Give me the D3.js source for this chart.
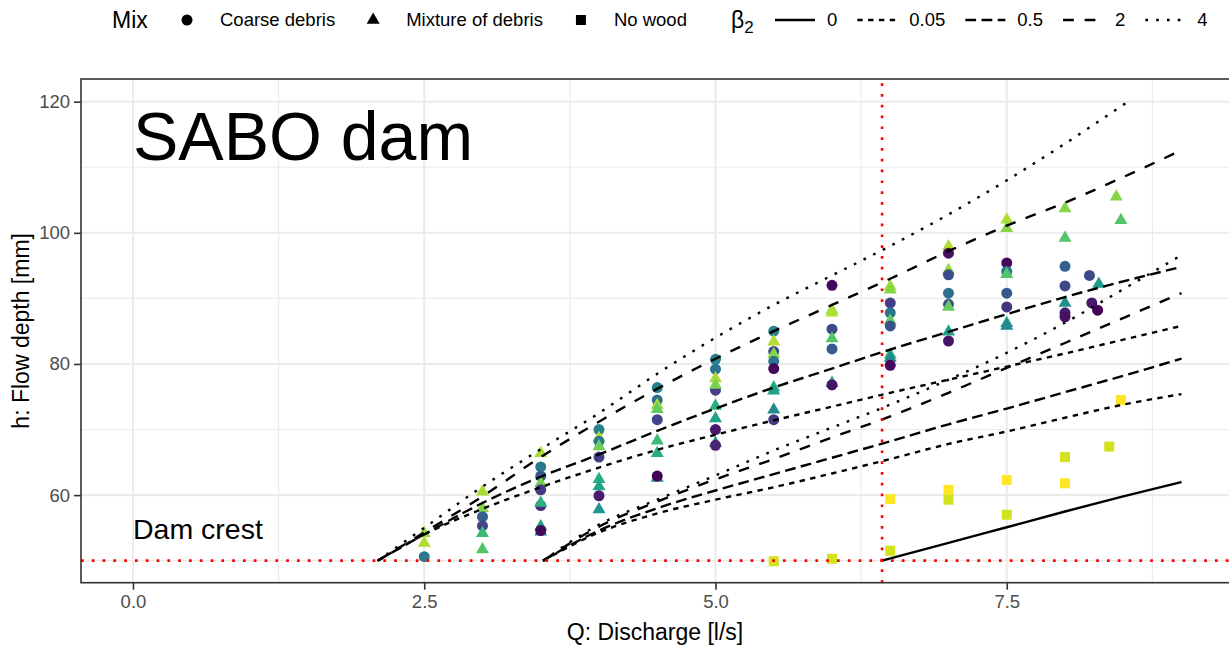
<!DOCTYPE html>
<html>
<head>
<meta charset="utf-8">
<script src="https://cdn.jsdelivr.net/npm/d3@7"></script>
<style>
  body { margin: 0; background: #fff; }
  svg { display: block; font-family: "Liberation Sans", Arial, sans-serif; }
</style>
</head>
<body>
<div id="chart"></div>
<script>
// ---- data ----
const damCrest = 50
const criticalQ = 6.43

const xTicks = [0, 2.5, 5, 7.5]
const xMinor = [1.25, 3.75, 6.25, 8.75]
const yTicks = [60, 80, 100, 120]
const yMinor = [50, 70, 90, 110]

const mixLevels = ['Coarse debris', 'Mixture of debris', 'No wood']
const betaLevels = ['0', '0.05', '0.5', '2', '4']

// model curves, upper family (coarse debris)
const upperQ = [2.1, 2.5, 3, 3.5, 4, 4.5, 5, 5.5, 6, 6.5, 7, 7.5, 8, 8.5, 9]
const upperB005 = [50, 54, 57.9, 61.2, 64.2, 66.9, 69.2, 71.4, 73.5, 75.6, 77.6, 79.6, 81.6, 83.7, 85.8]
const upperB05 = [50, 54, 58.8, 62.8, 66.2, 69.8, 73.2, 76.4, 79.3, 82.2, 84.9, 87.6, 90.2, 92.6, 94.8]
const upperB2 = [50, 54.3, 59.8, 65.8, 71.2, 76.2, 80.8, 85, 89, 93, 97.2, 101.1, 104.6, 108.5, 112.6]
const upperB4Q = [2.1, 2.5, 3, 3.5, 4, 4.5, 5, 5.5, 6, 6.5, 7, 7.5, 8, 8.54]
const upperB4 = [50, 55, 61.3, 67, 72.5, 78.5, 84, 89, 93.5, 98, 102.8, 108, 113.6, 120]

// model curves, lower family (mixture of debris)
const lowerQ = [3.52, 4, 4.5, 5, 5.5, 6, 6.5, 7, 7.5, 8, 8.5, 9]
const lowerB005 = [50, 54.3, 57.2, 59.3, 61.2, 63.3, 65.5, 67.8, 69.7, 71.8, 73.8, 75.4]
const lowerB05 = [50, 54.6, 58, 60.7, 63.2, 65.7, 68.2, 70.8, 73.2, 75.7, 78.2, 80.8]
const lowerB2 = [50, 55.2, 59, 62.4, 65.5, 68.8, 72, 75.6, 79.4, 83.2, 87, 90.8]
const lowerB4 = [50, 55.5, 59.3, 63, 66.8, 70.3, 73.8, 77.6, 81.7, 86.3, 91.4, 96.6]

// no wood curve
const noWoodQ = [6.43, 7, 7.5, 8, 8.5, 9]
const noWoodH = [50, 52.7, 55.1, 57.5, 59.8, 62]

// measured points: discharge, depth, mix code, run colour value
const pointQ = [
  2.5, 2.5, 2.5,
  3, 3, 3, 3, 3, 3,
  3.5, 3.5, 3.5, 3.5, 3.5, 3.5, 3.5, 3.5, 3.5, 3.5,
  4, 4, 4, 4, 4, 4, 4, 4, 4,
  4.5, 4.5, 4.5, 4.5, 4.5, 4.5, 4.5, 4.5, 4.5,
  5, 5, 5, 5, 5, 5, 5, 5, 5, 5,
  5.5, 5.5, 5.5, 5.5, 5.5, 5.5, 5.5, 5.5, 5.5, 5.5, 5.5,
  6, 6, 6, 6, 6, 6, 6, 6, 6,
  6.5, 6.5, 6.5, 6.5, 6.5, 6.5, 6.5, 6.5, 6.5, 6.5, 6.5,
  7, 7, 7, 7, 7, 7, 7, 7, 7, 7, 7,
  7.5, 7.5, 7.5, 7.5, 7.5, 7.5, 7.5, 7.5, 7.5, 7.5, 7.5,
  8, 8, 8, 8, 8, 8, 8, 8, 8,
  8.21, 8.29, 8.23, 8.28,
  8.44, 8.48, 8.38, 8.48
]
const pointH = [
  54.2, 52.7, 50.6,
  60.5, 58.0, 56.7, 55.3, 54.2, 51.7,
  66.4, 64.3, 62.9, 61.8, 60.8, 58.4, 58.8, 55.2, 54.4, 54.6,
  70.0, 68.7, 68.2, 67.4, 65.8, 62.4, 61.3, 59.9, 57.8,
  76.4, 74.5, 73.7, 73.1, 71.5, 68.3, 66.4, 62.6, 62.9,
  80.7, 79.2, 76.0, 77.8, 76.8, 73.6, 71.7, 70.0, 67.9, 67.6,
  85.0, 83.4, 81.9, 81.5, 80.4, 79.3, 76.4, 75.9, 73.0, 71.5, 49.9,
  92.0, 88.2, 87.8, 85.3, 83.9, 82.3, 77.1, 76.8, 50.3,
  91.8, 91.3, 89.3, 87.8, 86.6, 85.8, 81.4, 80.9, 79.8, 59.4, 51.5,
  97.9, 96.9, 94.3, 93.6, 90.8, 89.1, 88.7, 84.9, 83.5, 60.8, 59.3,
  102.0, 100.7, 95.4, 94.1, 93.7, 90.8, 88.7, 86.2, 85.8, 62.3, 57.0,
  103.7, 99.2, 94.9, 91.9, 89.3, 87.8, 87.2, 65.8, 61.8,
  93.5, 92.2, 89.3, 88.2,
  105.5, 101.9, 67.4, 74.5
]
const pointMix = [
  'M', 'M', 'C',
  'M', 'M', 'C', 'C', 'M', 'M',
  'M', 'C', 'C', 'M', 'C', 'C', 'M', 'M', 'M', 'C',
  'C', 'M', 'C', 'M', 'C', 'M', 'M', 'C', 'M',
  'C', 'C', 'M', 'M', 'C', 'M', 'M', 'M', 'C',
  'C', 'C', 'C', 'M', 'M', 'M', 'M', 'C', 'M', 'C',
  'C', 'M', 'C', 'M', 'C', 'C', 'M', 'M', 'M', 'C', 'N',
  'C', 'M', 'M', 'C', 'M', 'C', 'M', 'C', 'N',
  'M', 'M', 'C', 'C', 'M', 'C', 'M', 'M', 'C', 'N', 'N',
  'M', 'C', 'M', 'C', 'C', 'C', 'M', 'M', 'C', 'N', 'N',
  'M', 'M', 'C', 'C', 'M', 'C', 'C', 'M', 'M', 'N', 'N',
  'M', 'M', 'C', 'C', 'M', 'C', 'C', 'N', 'N',
  'C', 'M', 'C', 'C',
  'M', 'M', 'N', 'N'
]
const pointRun = [
  0.84, 0.88, 0.40,
  0.87, 0.82, 0.30, 0.20, 0.68, 0.73,
  0.87, 0.40, 0.28, 0.80, 0.17, 0.12, 0.64, 0.57, 0.50, 0.02,
  0.43, 0.88, 0.40, 0.78, 0.18, 0.62, 0.59, 0.08, 0.52,
  0.43, 0.35, 0.87, 0.76, 0.20, 0.68, 0.62, 0.50, 0.00,
  0.43, 0.38, 0.18, 0.87, 0.80, 0.64, 0.57, 0.06, 0.50, 0.10,
  0.43, 0.88, 0.24, 0.82, 0.38, 0.02, 0.63, 0.57, 0.47, 0.17, 0.93,
  0.02, 0.84, 0.88, 0.22, 0.73, 0.28, 0.57, 0.05, 0.93,
  0.86, 0.82, 0.18, 0.38, 0.76, 0.25, 0.65, 0.47, 0.02, 1.00, 0.93,
  0.88, 0.04, 0.84, 0.22, 0.36, 0.25, 0.76, 0.57, 0.05, 1.00, 0.93,
  0.88, 0.82, 0.02, 0.40, 0.73, 0.28, 0.15, 0.57, 0.47, 1.00, 0.93,
  0.82, 0.73, 0.30, 0.22, 0.50, 0.08, 0.04, 0.93, 1.00,
  0.22, 0.55, 0.06, 0.00,
  0.82, 0.73, 0.93, 1.00
]

// ---- chart ----
const width = 1229
const height = 646
const panel = { left: 81, top: 79, right: 1234.4, bottom: 582.7 }

const x = d3.scaleLinear().domain([-0.446, 9.454]).range([panel.left, panel.right])
const y = d3.scaleLinear().domain([46.64, 123.46]).range([panel.bottom, panel.top])
const color = d3.scaleSequential(d3.interpolateViridis).domain([0, 1])

// linetype dash patterns, ggplot style (multiples of line width)
const u = 2.7
const dash = d3.scaleOrdinal(betaLevels, [null, `${2 * u},${2 * u}`, `${4 * u},${2 * u}`, `${4 * u},${4 * u}`, `${u},${3 * u}`])
const mixName = { C: 'Coarse debris', M: 'Mixture of debris', N: 'No wood' }

function shape(mix) {
  if (mix === 'Coarse debris') return 'M5.5,0A5.5,5.5 0 1,1 -5.5,0A5.5,5.5 0 1,1 5.5,0Z'
  if (mix === 'Mixture of debris') return 'M0,-7.5L6.5,3.75L-6.5,3.75Z'
  return 'M-5,-5H5V5H-5Z'
}

const svg = d3.select('#chart').append('svg')
  .attr('width', width)
  .attr('height', height)

svg.append('defs').append('clipPath').attr('id', 'clip')
  .append('rect')
  .attr('x', panel.left).attr('y', panel.top)
  .attr('width', panel.right - panel.left).attr('height', panel.bottom - panel.top)

// grid
const grid = svg.append('g')
grid.selectAll('.xminor').data(xMinor).join('line')
  .attr('x1', d => x(d)).attr('x2', d => x(d))
  .attr('y1', panel.top).attr('y2', panel.bottom)
  .attr('stroke', '#ebebeb').attr('stroke-width', 1.1)
grid.selectAll('.yminor').data(yMinor).join('line')
  .attr('y1', d => y(d)).attr('y2', d => y(d))
  .attr('x1', panel.left).attr('x2', panel.right)
  .attr('stroke', '#ebebeb').attr('stroke-width', 1.1)
grid.selectAll('.xmajor').data(xTicks).join('line')
  .attr('x1', d => x(d)).attr('x2', d => x(d))
  .attr('y1', panel.top).attr('y2', panel.bottom)
  .attr('stroke', '#ebebeb').attr('stroke-width', 2.1)
grid.selectAll('.ymajor').data(yTicks).join('line')
  .attr('y1', d => y(d)).attr('y2', d => y(d))
  .attr('x1', panel.left).attr('x2', panel.right)
  .attr('stroke', '#ebebeb').attr('stroke-width', 2.1)

// annotations
svg.append('text')
  .attr('x', x(0)).attr('y', y(111.1))
  .attr('font-size', 68)
  .text('SABO dam')
svg.append('text')
  .attr('x', x(0)).attr('y', y(53.3))
  .attr('font-size', 28.5)
  .text('Dam crest')

// points
const points = pointQ.map((q, i) => ({ q, h: pointH[i], mix: mixName[pointMix[i]], run: pointRun[i] }))
svg.append('g').attr('clip-path', 'url(#clip)')
  .selectAll('path').data(points).join('path')
  .attr('transform', d => `translate(${x(d.q)},${y(d.h)})`)
  .attr('d', d => shape(d.mix))
  .attr('fill', d => color(d.run))

// model lines
const curves = [
  { beta: '0.05', q: upperQ, h: upperB005 },
  { beta: '0.5', q: upperQ, h: upperB05 },
  { beta: '2', q: upperQ, h: upperB2 },
  { beta: '4', q: upperB4Q, h: upperB4 },
  { beta: '0.05', q: lowerQ, h: lowerB005 },
  { beta: '0.5', q: lowerQ, h: lowerB05 },
  { beta: '2', q: lowerQ, h: lowerB2 },
  { beta: '4', q: lowerQ, h: lowerB4 },
  { beta: '0', q: noWoodQ, h: noWoodH }
]
const line = d3.line().x(d => x(d[0])).y(d => y(d[1])).curve(d3.curveMonotoneX)
svg.append('g').attr('clip-path', 'url(#clip)')
  .selectAll('path').data(curves).join('path')
  .attr('d', c => line(c.q.map((q, i) => [q, c.h[i]])))
  .attr('fill', 'none')
  .attr('stroke', '#000')
  .attr('stroke-width', 2.4)
  .attr('stroke-dasharray', c => dash(c.beta))

// dam crest and critical discharge
const red = svg.append('g').attr('clip-path', 'url(#clip)')
red.append('line')
  .attr('x1', panel.left).attr('x2', panel.right)
  .attr('y1', y(damCrest)).attr('y2', y(damCrest))
red.append('line')
  .attr('x1', x(criticalQ)).attr('x2', x(criticalQ))
  .attr('y1', panel.bottom).attr('y2', panel.top)
red.selectAll('line')
  .attr('stroke', '#ff0000')
  .attr('stroke-width', 2.6)
  .attr('stroke-dasharray', `${u},${3 * u}`)

// panel border
svg.append('rect')
  .attr('x', panel.left).attr('y', panel.top)
  .attr('width', panel.right - panel.left).attr('height', panel.bottom - panel.top)
  .attr('fill', 'none').attr('stroke', '#333').attr('stroke-width', 1.6)

// axes
const xAxis = svg.append('g')
  .attr('transform', `translate(0,${panel.bottom})`)
  .call(d3.axisBottom(x).tickValues(xTicks).tickFormat(d3.format('.1f')).tickSize(7).tickPadding(5))
const yAxis = svg.append('g')
  .attr('transform', `translate(${panel.left},0)`)
  .call(d3.axisLeft(y).tickValues(yTicks).tickSize(7).tickPadding(4))
for (const g of [xAxis, yAxis]) {
  g.select('.domain').remove()
  g.selectAll('line').attr('stroke', '#333').attr('stroke-width', 1.6)
  g.selectAll('text').attr('fill', '#4d4d4d').attr('font-size', 18.5).attr('font-family', null)
}

svg.append('text')
  .attr('x', (panel.left + 1229) / 2).attr('y', 640)
  .attr('text-anchor', 'middle').attr('font-size', 23)
  .text('Q: Discharge [l/s]')
svg.append('text')
  .attr('transform', `translate(29,${(panel.top + panel.bottom) / 2}) rotate(-90)`)
  .attr('text-anchor', 'middle').attr('font-size', 23)
  .text('h: Flow depth [mm]')

// legends
const legendY = 20
const legend = svg.append('g')
legend.append('text')
  .attr('x', 112).attr('y', legendY).attr('dy', '0.35em')
  .attr('font-size', 23).text('Mix')

let cx = 187
mixLevels.forEach(m => {
  legend.append('path')
    .attr('transform', `translate(${cx},${legendY})`)
    .attr('d', shape(m)).attr('fill', '#000')
  const t = legend.append('text')
    .attr('x', cx + 33).attr('y', legendY).attr('dy', '0.35em')
    .attr('font-size', 18.5).text(m)
  cx = cx + 33 + t.node().getComputedTextLength() + 38
})

const bt = legend.append('text')
  .attr('x', 731).attr('y', legendY).attr('dy', '0.35em')
  .attr('font-size', 23)
bt.append('tspan').text('β')
bt.append('tspan').attr('font-size', 17).attr('dy', '0.3em').text('2')

let lx = 775
betaLevels.forEach(b => {
  legend.append('line')
    .attr('x1', lx).attr('x2', lx + 40)
    .attr('y1', legendY).attr('y2', legendY)
    .attr('stroke', '#000').attr('stroke-width', 2.4)
    .attr('stroke-dasharray', dash(b))
  const t = legend.append('text')
    .attr('x', lx + 52).attr('y', legendY).attr('dy', '0.35em')
    .attr('font-size', 18.5).text(b)
  lx = lx + 52 + t.node().getComputedTextLength() + 20
})
</script>
</body>
</html>
